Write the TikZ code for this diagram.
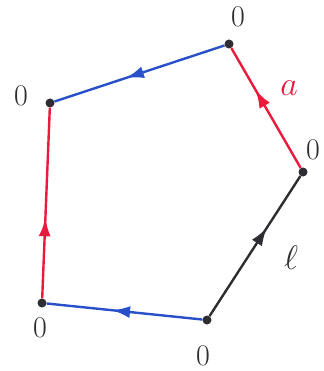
\RequirePackage{fix-cm}
\documentclass[tikz,border=0pt]{standalone}
\usetikzlibrary{arrows.meta,decorations.markings}
\definecolor{penblue}{RGB}{40,80,200}
\definecolor{penred}{RGB}{235,25,60}
\definecolor{penblack}{RGB}{45,45,50}
\tikzset{
  vdot/.style={circle,fill=penblack,inner sep=0pt,minimum size=9pt},
  zlabel/.style={text=penblack,font=\fontsize{30}{30}\selectfont},
  edge/.style={line width=2.4pt,postaction={decorate},
    decoration={markings,mark=at position #1 with {\arrow{Latex[length=18pt,width=12pt]}}}},
}
\begin{document}
\begin{tikzpicture}[x=1pt,y=-1pt]
\useasboundingbox (0,0) rectangle (323,371);
\node[vdot] (A) at (229,44) {};
\node[vdot] (B) at (50,103) {};
\node[vdot] (C) at (42,303) {};
\node[vdot] (D) at (207,320) {};
\node[vdot] (E) at (303,172) {};
\draw[edge=0.58,penblue] (A) -- (B);
\draw[edge=0.42,penred] (C) -- (B);
\draw[edge=0.58,penblue] (D) -- (C);
\draw[edge=0.63,penblack] (D) -- (E);
\draw[edge=0.65,penred] (E) -- (A);
\node[zlabel] (lA) at (238,17) {0};
\node[zlabel] (lB) at (21,96) {0};
\node[zlabel] (lC) at (40,328) {0};
\node[zlabel] (lD) at (203,356) {0};
\node[zlabel] (lE) at (313,150) {0};
\node[text=penred,font=\fontsize{34}{34}\selectfont] (la) at (289,88) {$a$};
\node[text=penblack,font=\fontsize{34}{34}\selectfont] (ll) at (291,258) {$\ell$};
\end{tikzpicture}
\end{document}
